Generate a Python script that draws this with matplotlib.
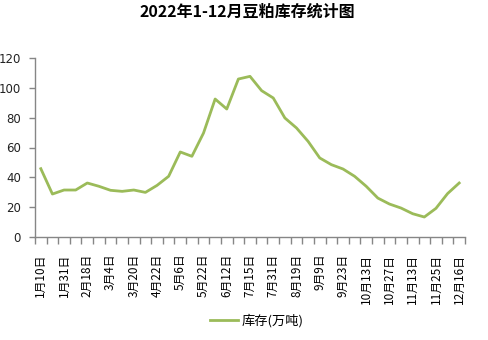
import matplotlib
matplotlib.use("Agg")
import matplotlib.pyplot as plt
from matplotlib.ticker import FixedLocator, MultipleLocator

plt.rcParams['font.family'] = ['Noto Sans CJK SC', 'DejaVu Sans']

# labelled dates (every other weekly reading)
date_labels = ["1月10日", "1月31日", "2月18日", "3月4日", "3月20日", "4月22日",
               "5月6日", "5月22日", "6月12日", "7月15日", "7月31日", "8月19日",
               "9月9日", "9月23日", "10月13日", "10月27日", "11月13日", "11月25日",
               "12月16日"]

# soybean meal inventory, 10k tonnes
stock = [45.8, 28.8, 31.5, 31.5, 36.2, 34.0, 31.3, 30.6, 31.5, 29.9,
         34.6, 40.7, 57.0, 54.1, 69.7, 92.5, 85.8, 105.9, 107.7, 98.1,
         93.2, 79.8, 73.1, 64.1, 53.0, 48.5, 45.6, 40.7, 34.0, 26.1,
         22.1, 19.4, 15.6, 13.4, 19.2, 29.1, 36.2]

line_color = "#9bbb59"
axis_color = "#868686"

fig = plt.figure(figsize=(4.89, 3.40), dpi=100)
ax = fig.add_axes([35 / 489, 103 / 340, 430 / 489, 179 / 340])

x = list(range(len(stock)))
ax.plot(x, stock, color=line_color, linewidth=2.0, label="库存(万吨)",
        solid_joinstyle="round")

ax.set_xlim(-0.5, len(stock) - 0.5)
ax.set_ylim(0, 120)
ax.yaxis.set_major_locator(MultipleLocator(20))

# labels on every other category, tick marks between categories
ax.set_xticks(x[::2])
ax.set_xticklabels(date_labels, rotation=90, fontsize=8.5)
ax.tick_params(axis="x", which="major", length=0, pad=12)
ax.xaxis.set_minor_locator(FixedLocator([i - 0.5 for i in range(len(stock) + 1)]))
ax.tick_params(axis="x", which="minor", length=5, width=1, color=axis_color,
               direction="out")
ax.tick_params(axis="y", length=4, width=1, color=axis_color, direction="out",
               labelsize=8.5, pad=6)
for lab in ax.get_yticklabels():
    lab.set_family("DejaVu Sans")
    lab.set_color("#222222")

for side in ("top", "right"):
    ax.spines[side].set_visible(False)
for side in ("left", "bottom"):
    ax.spines[side].set_color(axis_color)
    ax.spines[side].set_linewidth(1)

fig.text(0.506, 0.966, "2022年1-12月豆粕库存统计图", ha="center", va="center",
         fontsize=11.5, fontweight="bold")

fig.legend(loc="center", bbox_to_anchor=(0.525, 0.058), frameon=False,
           fontsize=9.5, handlelength=2.1, handletextpad=0.3)

fig.savefig("out.png", dpi=100)
